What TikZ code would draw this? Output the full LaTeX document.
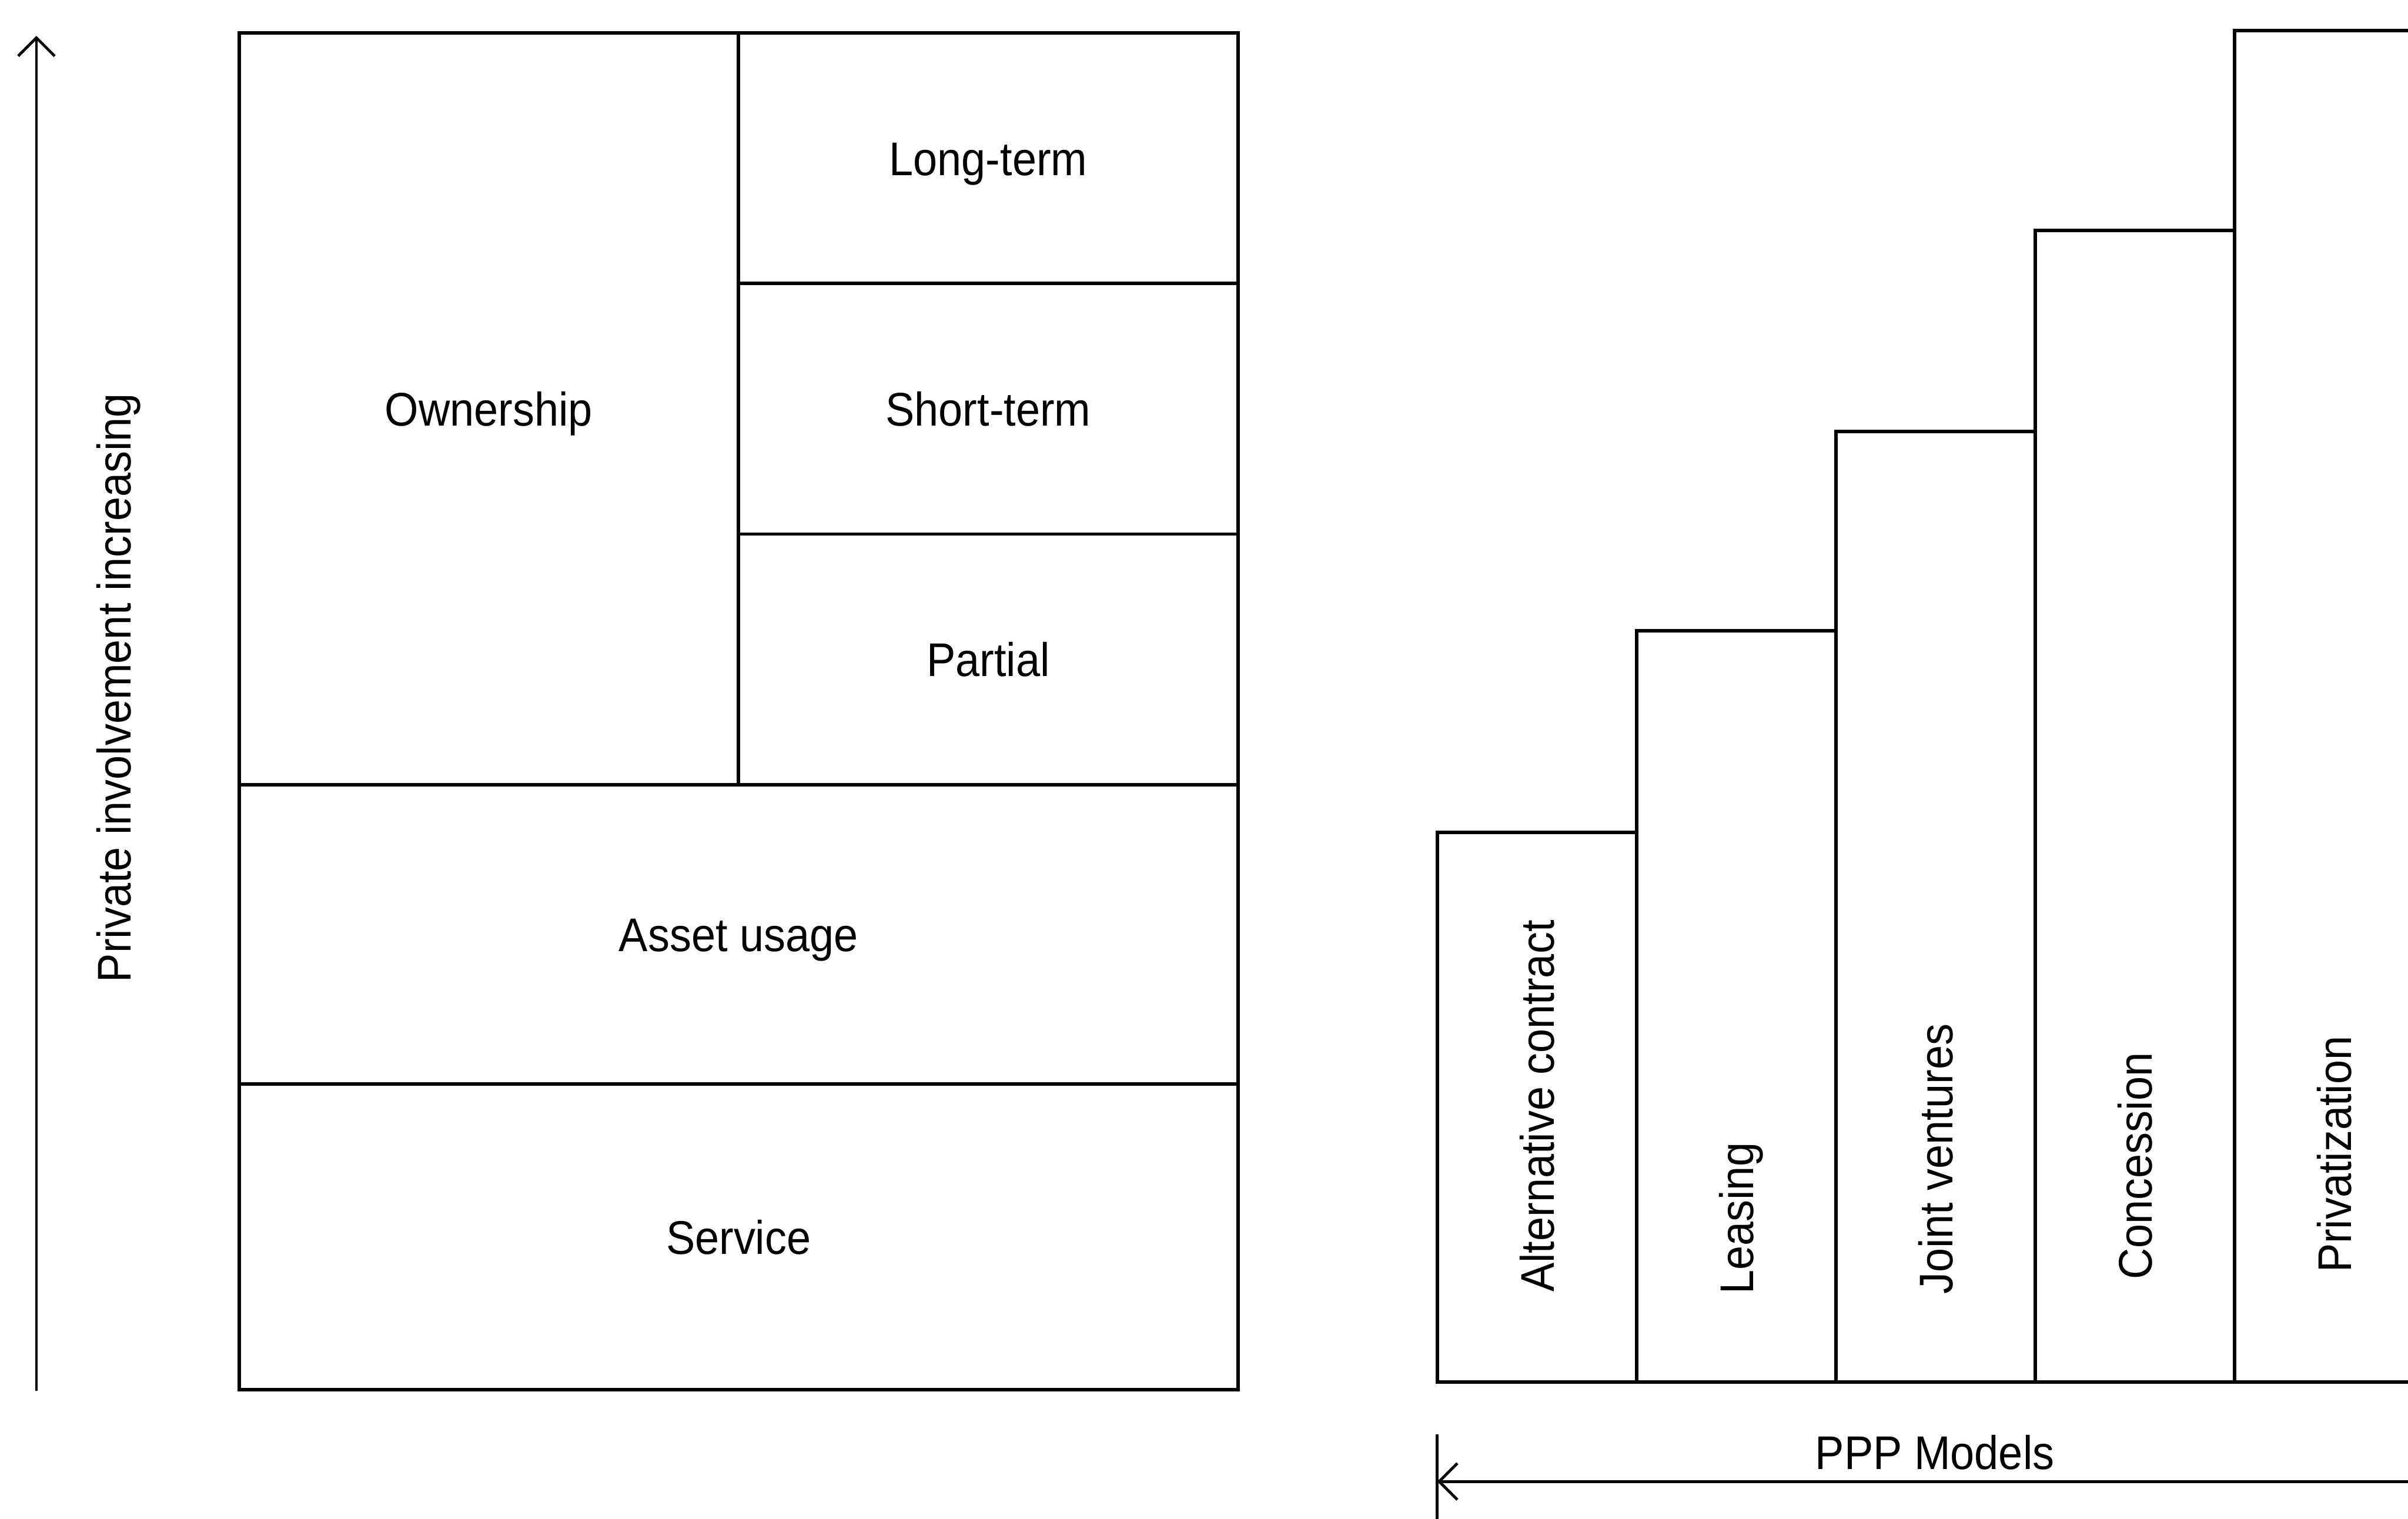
\documentclass[tikz,border=0pt]{standalone}
\usepackage{fontspec}
\setmainfont{Liberation Sans}[FakeStretch=0.92]
\usepackage{tikz}
\usetikzlibrary{arrows.meta,positioning}
\tikzstyle{cell} = [draw, rectangle, line width=1.7pt, outer sep=0pt, inner sep=0pt, anchor=south west, font=\fontsize{23.6pt}{28pt}\selectfont, text height=0.6cm, text depth=0pt]
\tikzstyle{bar} = [draw, rectangle, line width=1.7pt, outer sep=0pt, inner sep=0pt, minimum width=3.5cm, anchor=south west]
\tikzstyle{label} = [inner sep=0pt, font=\fontsize{23.6pt}{28pt}\selectfont, text height=0.6cm, text depth=0pt]
\tikzstyle{barlabel} = [label, rotate=90, anchor=west]
\tikzstyle{axis} = [line width=1.4pt, -{Straight Barb[length=0.32cm,width=0.64cm]}]

\begin{document}
\begin{tikzpicture}
	\path[use as bounding box, clip] (0,0) rectangle (42.29,26.67);
	% involvement axis
	\coordinate (lowend) at (0.64,2.24);
	\coordinate (highend) at (0.64,26.04);
	\draw[axis] (lowend) -- (highend);
	\node[label, rotate=90] (involvement) at (2.0,14.59) {Private involvement increasing};
	% left block
	\node[cell, minimum width=17.54cm, minimum height=5.37cm] (service) at (4.2,2.26) {Service};
	\node[cell, minimum width=17.54cm, minimum height=5.26cm] (asset) at (service.north west) {Asset usage};
	\node[cell, minimum width=8.77cm, minimum height=13.2cm] (ownership) at (asset.north west) {Ownership};
	\node[cell, minimum width=8.77cm, minimum height=4.4cm] (partial) at (ownership.south east) {Partial};
	\node[cell, minimum width=8.77cm, minimum height=4.4cm] (shortterm) at (partial.north west) {Short-term};
	\node[cell, minimum width=8.77cm, minimum height=4.4cm] (longterm) at (shortterm.north west) {Long-term};
	% PPP model bars
	\node[bar, minimum height=9.65cm] (alternative) at (25.24,2.4) {};
	\node[bar, minimum height=13.19cm] (leasing) at (alternative.south east) {};
	\node[bar, minimum height=16.69cm] (joint) at (leasing.south east) {};
	\node[bar, minimum height=20.22cm] (concession) at (joint.south east) {};
	\node[bar, minimum height=23.73cm] (privatization) at (concession.south east) {};
	\node[barlabel] (alternativetext) at ([yshift=1.57cm]alternative.south) {Alternative contract};
	\node[barlabel] (leasingtext) at ([yshift=1.53cm]leasing.south) {Leasing};
	\node[barlabel] (jointtext) at ([yshift=1.53cm]joint.south) {Joint ventures};
	\node[barlabel] (concessiontext) at ([yshift=1.79cm]concession.south) {Concession};
	\node[barlabel] (privatizationtext) at ([yshift=1.91cm]privatization.south) {Privatization};
	% PPP axis
	\coordinate (ticktop) at (25.24,1.48);
	\coordinate (tickbottom) at (25.24,-0.1);
	\draw[line width=1.4pt] (ticktop) -- (tickbottom);
	\coordinate (pppright) at (42.6,0.65);
	\coordinate (pppleft) at (25.24,0.65);
	\draw[axis] (pppright) -- (pppleft);
	\node[label] (ppp) at (33.98,1.16) {PPP Models};
\end{tikzpicture}
\end{document}
